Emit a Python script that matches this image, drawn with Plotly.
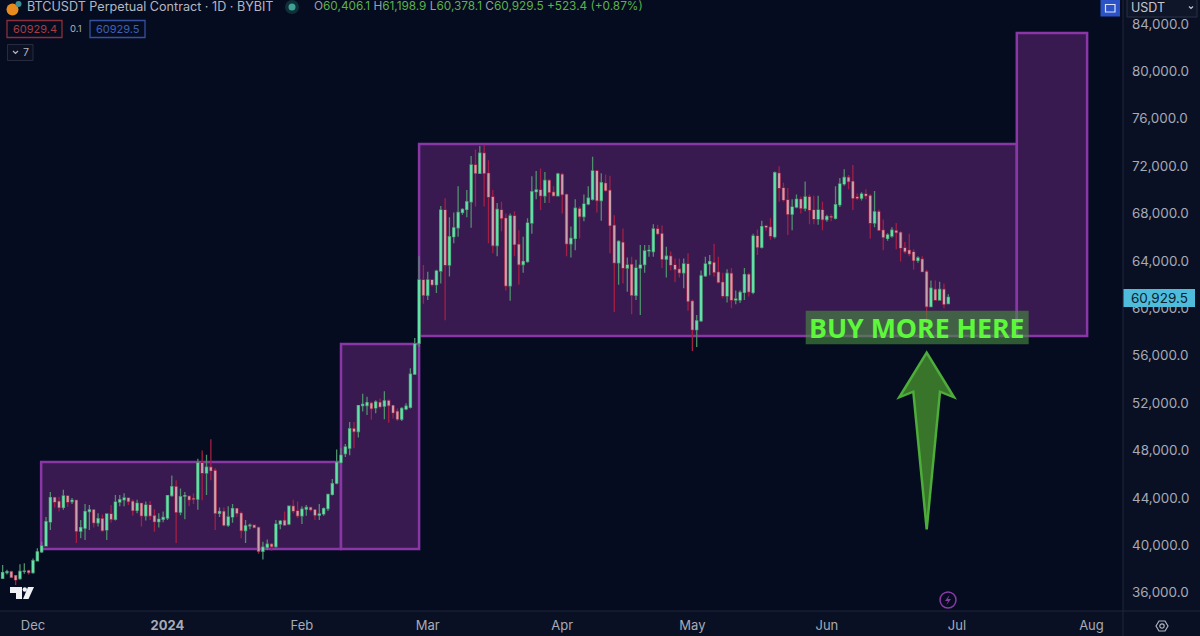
import numpy as np
import pandas as pd
import plotly.graph_objects as go

# Daily BTCUSDT candles, thousands of USDT, one line per month
first_day = "2023-11-24"
opens = [
 37.22,37.70,37.78,37.45,37.20,37.80,37.85,
 37.70,38.70,39.45,39.95,41.98,44.03,43.70,43.20,44.17,43.70,43.80,41.20,41.45,42.85,43.00,41.90,42.25,41.30,42.65,42.20,43.65,43.85,44.00,43.70,42.95,43.55,42.50,43.40,42.50,42.00,42.20,
 42.30,44.20,44.95,42.80,44.15,44.15,43.95,43.90,46.95,46.10,46.60,46.30,42.70,42.85,41.70,42.40,43.10,42.70,41.25,41.65,41.70,41.50,39.50,39.85,40.10,39.90,41.80,42.10,41.80,43.30,42.90,
 42.50,43.05,43.20,43.00,42.55,42.65,43.10,44.30,45.25,47.00,47.75,48.20,49.85,49.60,51.80,51.80,52.00,51.60,52.05,51.75,52.20,51.80,51.30,50.65,51.50,51.65,54.45,57.05,62.40,
 61.10,62.40,62.00,63.15,68.30,63.65,66.05,66.80,68.10,68.35,69.00,72.10,71.40,73.10,71.40,69.40,65.30,68.30,67.60,61.90,67.80,65.40,63.70,63.95,67.20,69.85,70.00,69.50,70.80,69.80,69.50,
 71.30,69.60,65.45,65.90,68.40,67.75,68.80,69.20,71.60,69.10,70.55,69.95,67.00,63.85,65.55,63.40,63.70,61.10,63.40,63.70,64.85,64.80,66.70,66.30,64.15,64.40,63.65,63.30,63.00,63.75,
 60.60,58.20,58.95,62.75,63.75,63.85,63.05,62.20,61.05,62.95,60.70,60.70,61.35,62.85,61.35,66.10,65.15,66.95,66.85,66.05,71.40,70.15,69.15,67.95,68.55,69.20,68.45,69.40,68.30,67.55,68.30,
 67.50,67.75,67.60,68.75,70.50,71.05,70.70,69.40,69.30,69.65,69.50,67.20,68.15,66.60,65.90,66.10,66.55,66.40,65.10,64.90,64.75,64.05,64.15,63.10,60.15,61.60,60.70,61.60,60.4061,
]
highs = [
 38.35,37.95,37.85,37.50,38.40,38.50,37.95,
 38.90,39.75,40.30,42.40,44.50,44.10,44.10,44.70,44.25,44.00,43.85,42.15,43.50,43.40,43.05,42.70,42.60,42.70,43.40,44.25,44.25,44.40,44.05,43.90,43.85,43.60,43.70,43.75,43.05,42.70,42.85,
 44.25,45.90,45.50,44.80,44.50,44.20,44.40,47.30,48.00,47.65,48.95,46.50,43.20,43.20,43.30,43.50,43.15,42.85,42.15,41.85,41.75,41.60,40.30,40.50,40.20,42.15,42.15,42.85,43.35,43.85,43.70,
 43.30,43.40,43.25,43.05,43.50,43.20,44.35,45.60,48.10,48.20,48.55,50.40,50.40,51.85,52.80,52.55,52.15,52.25,52.40,53.00,52.30,51.85,51.55,51.65,52.00,54.95,57.50,64.40,63.65,
 63.10,62.45,63.25,68.65,69.30,67.70,68.10,70.30,68.45,70.00,72.85,73.40,73.70,73.80,72.50,70.00,68.90,69.00,68.00,68.00,68.20,66.60,66.05,67.60,71.15,71.60,71.80,71.50,70.90,70.30,71.45,
 71.45,69.70,66.90,69.20,68.60,69.60,70.30,72.80,71.70,71.40,71.30,71.20,67.85,65.75,66.75,64.30,64.35,64.10,65.35,65.35,65.35,67.10,67.05,67.00,65.20,64.80,64.20,64.20,64.20,64.65,
 60.75,59.45,63.20,64.35,64.50,65.45,64.35,63.00,63.30,63.40,61.50,61.50,63.40,63.00,66.30,66.65,67.40,67.05,67.60,71.55,72.00,70.60,70.15,69.20,69.60,69.45,70.70,69.60,69.50,69.50,69.00,
 67.90,67.95,70.30,71.00,71.75,71.25,72.10,69.70,69.80,70.05,69.65,69.90,68.35,67.50,66.35,66.85,67.20,66.50,65.60,66.30,65.00,64.40,64.40,63.25,62.35,62.35,62.25,62.10,61.1989,
]
lows = [
 37.17,37.55,37.22,36.66,37.10,37.60,37.55,
 37.60,38.65,39.35,39.90,41.30,43.20,42.85,43.00,43.25,43.50,40.20,40.60,40.45,41.30,41.50,41.60,41.15,40.45,41.90,42.10,43.30,43.30,43.40,42.50,42.70,41.60,42.10,42.15,41.15,41.50,41.95,
 42.15,44.10,40.20,42.55,42.20,43.30,43.50,43.00,43.80,44.25,45.50,41.30,42.40,41.60,41.55,41.90,42.40,40.60,40.20,41.35,41.45,39.30,38.80,39.60,39.55,39.80,41.35,41.65,41.70,42.70,42.30,
 41.80,42.50,42.85,42.15,42.15,42.50,42.90,44.20,45.15,46.90,47.45,47.60,48.20,49.10,51.30,51.00,50.60,51.15,51.55,50.65,50.35,50.70,50.50,50.50,51.40,51.55,54.40,56.75,60.40,
 60.70,61.85,61.30,62.10,59.00,62.70,65.50,66.05,67.90,67.70,66.80,68.60,71.35,68.60,65.50,64.65,64.40,66.50,61.50,60.65,64.40,62.00,63.00,63.85,66.30,69.20,68.30,68.90,68.90,69.45,69.45,
 68.00,64.40,64.30,64.90,65.90,67.35,68.70,69.10,68.10,67.40,69.85,64.65,59.70,62.00,62.10,61.40,59.50,60.70,59.45,63.00,64.35,64.35,66.20,63.40,62.60,63.20,62.20,62.60,61.70,59.80,
 56.40,56.75,58.85,62.65,62.80,62.70,62.10,60.85,60.50,60.00,60.35,60.45,60.70,61.00,61.20,64.50,65.05,66.55,65.80,65.90,69.00,69.00,66.20,66.60,68.45,68.00,68.20,67.10,67.10,67.05,66.60,
 67.30,67.35,67.50,68.55,70.35,70.05,68.30,69.15,69.10,69.20,65.90,66.85,66.55,64.90,65.70,65.95,65.00,63.95,64.60,64.40,63.25,63.85,63.05,58.50,60.10,60.65,60.65,60.00,60.3781,
]
closes = [
 37.70,37.78,37.30,37.08,37.80,37.82,37.70,
 38.70,39.45,39.95,42.00,44.03,43.65,43.20,44.17,43.65,43.80,41.20,41.50,42.85,43.00,41.90,42.25,41.25,42.65,42.20,43.65,43.85,44.00,43.70,42.95,43.55,42.50,43.40,42.50,42.00,42.20,42.35,
 44.20,44.95,42.80,44.10,44.20,43.85,43.90,46.95,46.10,46.60,46.30,42.70,42.85,41.70,42.40,43.10,42.70,41.25,41.65,41.70,41.50,39.50,39.85,40.10,39.90,41.80,42.05,41.70,43.30,42.90,42.50,
 43.05,43.20,43.00,42.55,42.65,43.10,44.30,45.20,47.00,47.60,48.30,49.85,49.60,51.80,51.90,52.05,51.55,52.10,51.70,52.20,51.80,51.20,50.65,51.55,51.75,54.45,57.00,62.40,61.10,
 62.40,62.00,63.15,68.30,63.65,66.05,66.80,68.10,68.35,69.00,72.10,71.40,73.10,71.40,69.40,65.30,68.35,67.60,61.90,67.80,65.40,63.70,63.95,67.20,69.85,70.00,69.50,70.80,69.80,69.50,71.35,
 69.60,65.45,65.90,68.45,67.75,68.80,69.30,71.60,69.10,70.60,69.95,67.00,63.85,65.65,63.40,63.65,61.10,63.40,63.65,64.85,64.90,66.70,66.30,64.15,64.40,63.65,63.30,63.00,63.75,60.60,
 58.20,58.95,62.75,63.75,63.95,63.05,62.20,61.05,62.95,60.70,60.80,61.35,62.85,61.40,66.10,65.15,66.90,66.85,66.10,71.45,70.15,69.15,67.95,68.55,69.20,68.45,69.40,68.30,67.55,68.30,67.50,
 67.75,67.70,68.75,70.50,71.05,70.70,69.30,69.30,69.65,69.50,67.20,68.15,66.60,66.00,66.20,66.60,66.40,65.10,64.80,64.60,64.05,64.25,63.10,60.15,61.70,60.70,61.60,60.35,60.9295,
]

# Drawn zones
zone_starts = ["2023-12-02 21:00", "2024-02-10 00:00", "2024-02-28 00:00", "2024-07-14 19:00"]
zone_ends = ["2024-02-10 00:00", "2024-02-28 00:00", "2024-07-14 19:00", "2024-07-31 00:00"]
zone_lows = [39700, 39700, 57670, 57670]
zone_highs = [47040, 57000, 73870, 83240]

# Axis labels
month_ticks = ["2023-12-01", "2024-01-01", "2024-02-01", "2024-03-01", "2024-04-01", "2024-05-01", "2024-06-01", "2024-07-01", "2024-08-01"]
month_labels = ["Dec", "<b>2024</b>", "Feb", "Mar", "Apr", "May", "Jun", "Jul", "Aug"]
price_ticks = [36000, 40000, 44000, 48000, 52000, 56000, 60000, 64000, 68000, 72000, 76000, 80000, 84000]

dates = pd.date_range(first_day, periods=len(closes), freq="D")
o, h, l, c = [np.array(a) * 1000 for a in (opens, highs, lows, closes)]

W, H = 1200, 636
PW, PH = 1123, 611
BG, AXBG = "#050c20", "#0a1024"
TXT = "#a7abb6"
FONT = "Inter"

def px(x):
    return x / PW

def py(y):
    return 1 - y / PH

def poly(pts):
    return "M" + " L".join(f"{px(x):.5f},{py(y):.5f}" for x, y in pts) + " Z"

fig = go.Figure()
# wick layer (dark thin lines) then bright bodies on top
fig.add_trace(go.Candlestick(
    x=dates, open=o, high=h, low=l, close=c, whiskerwidth=0,
    increasing=dict(line=dict(color="#4f8f6c", width=1.3), fillcolor="#4f8f6c"),
    decreasing=dict(line=dict(color="#a31f45", width=1.3), fillcolor="#a31f45"),
    showlegend=False, hoverinfo="skip"))
fig.add_trace(go.Candlestick(
    x=dates, open=o, high=h, low=l, close=c, whiskerwidth=0,
    increasing=dict(line=dict(color="rgba(0,0,0,0)", width=0), fillcolor="#5fe3aa"),
    decreasing=dict(line=dict(color="rgba(0,0,0,0)", width=0), fillcolor="#c4a2ae"),
    showlegend=False, hoverinfo="skip"))

shapes = []
for x0, x1, y0, y1 in zip(zone_starts, zone_ends, zone_lows, zone_highs):
    shapes.append(dict(type="rect", xref="x", yref="y", x0=x0, x1=x1, y0=y0, y1=y1, layer="below",
                       fillcolor="#381a50", line=dict(color="#8a36a6", width=2.5)))

def rect(x0, y0, x1, y1, fill=None, line=None, lw=1):
    shapes.append(dict(type="rect", xref="paper", yref="paper", x0=px(x0), x1=px(x1), y0=py(y1), y1=py(y0),
                       fillcolor=fill or "rgba(0,0,0,0)", line=dict(color=line or "rgba(0,0,0,0)", width=lw if line else 0)))

def circle(cx, cy, r, fill=None, line=None, lw=1):
    shapes.append(dict(type="circle", xref="paper", yref="paper", x0=px(cx - r), x1=px(cx + r), y0=py(cy + r), y1=py(cy - r),
                       fillcolor=fill or "rgba(0,0,0,0)", line=dict(color=line or "rgba(0,0,0,0)", width=lw if line else 0)))

def path(pts, fill=None, line=None, lw=1):
    shapes.append(dict(type="path", xref="paper", yref="paper", path=poly(pts),
                       fillcolor=fill or "rgba(0,0,0,0)", line=dict(color=line or "rgba(0,0,0,0)", width=lw if line else 0)))

# separators
shapes.append(dict(type="line", xref="paper", yref="paper", x0=1, x1=1, y0=-25 / PH, y1=1, line=dict(color="#20263a", width=1)))
shapes.append(dict(type="line", xref="paper", yref="paper", x0=0, x1=W / PW, y0=0, y1=0, line=dict(color="#20263a", width=1)))

# BUY MORE HERE label and arrow
rect(805.7, 310.7, 1028.7, 344.3, fill="rgba(72,140,64,0.62)")
path([(926.7, 352.7), (954, 397.3), (940, 391.7), (926.7, 529.3), (913.3, 391.7), (899.3, 397.3)],
     fill="#38752a", line="#4dad3a", lw=2.5)

# last price tag
rect(1123.5, 289, 1195, 307, fill="#4fbcdc")

# header widgets
circle(12.5, 9.5, 6, fill="#e98a1e")
circle(18.5, 4, 3, fill="#3f8f96")
circle(292, 7, 7, fill="#0f3038")
circle(292, 7, 3.5, fill="#3fa295")
rect(7, 20.5, 62, 37.5, line="#8c2f38", lw=1.3)
rect(90, 20.5, 145, 37.5, line="#34509e", lw=1.3)
rect(7.5, 44.5, 33, 60.5, fill="#0b1122", line="#262c3e", lw=1)
path([(13, 51), (15.5, 53.5), (18, 51), (15.5, 53.5)], line="#b5b8c2", lw=1.2)
rect(1100.5, 0, 1120, 16.5, fill="#2b53c6")
rect(1105.5, 4.5, 1115, 12, line="#d8e2ff", lw=1.2)
rect(1127, -2, 1197, 17, fill="#10162a", line="#2a3044", lw=1)
path([(1189, 6.5), (1191, 8.5), (1193, 6.5), (1191, 8.5)], line="#c0c3cc", lw=1.2)

# TradingView mark
path([(10, 587), (22, 587), (22, 599), (16, 599), (16, 593), (10, 593)], fill="#f0f1f4")
path([(28, 587), (34, 587), (28.5, 599), (23, 599)], fill="#f0f1f4")
circle(24.8, 589.5, 2.2, fill="#f0f1f4")

# lightning badge
circle(948, 600, 8, line="#8a3aa6", lw=1.5)
path([(949.5, 595), (945, 601), (948, 601), (946.5, 605), (951, 599), (948, 599)], fill="#8a3aa6")

# settings icon
path([(1156, 626), (1159, 621), (1165, 621), (1168, 626), (1165, 631), (1159, 631)], line="#b0b3bd", lw=1.2)
circle(1162, 626, 2.2, line="#b0b3bd", lw=1.2)

fig.update_layout(shapes=shapes)

def note(x, y, text, size=12, color=TXT, anchor="left", font=FONT):
    fig.add_annotation(xref="paper", yref="paper", x=px(x), y=py(y), text=text, showarrow=False,
                       xanchor=anchor, yanchor="middle", font=dict(size=size, color=color, family=font))

G = "#5fb04a"
D = "#9a9eaa"
note(24.5, 6.5, "BTCUSDT Perpetual Contract · 1D · BYBIT", 12.6, "#b4b7c1")
note(311.5, 6.5,
     f"<span style='color:{D}'>O</span>60,406.1 <span style='color:{D}'>H</span>61,198.9 "
     f"<span style='color:{D}'>L</span>60,378.1 <span style='color:{D}'>C</span>60,929.5 +523.4 (+0.87%)",
     11.8, G)
note(34.5, 29, "60929.4", 11, "#a63c44", "center")
note(75.5, 29, "0.1", 9.5, "#aeb1bb", "center")
note(117.5, 29, "60929.5", 11, "#3f60b4", "center")
note(26, 52.5, "7", 10.5, "#b5b8c2", "center")
note(1128.5, 8, "USDT", 12.5, "#c4c7d0")
note(1159.5, 298, "60,929.5", 13.5, "#07222e", "center")
note(917.2, 327.5, "<b>BUY MORE HERE</b>", 26.7, "#5df83c", "center", "Open Sans")

fig.update_layout(
    width=W, height=H, margin=dict(l=0, r=W - PW, t=0, b=H - PH),
    paper_bgcolor=AXBG, plot_bgcolor=BG, showlegend=False, dragmode=False,
    font=dict(family=FONT, color=TXT, size=13),
    xaxis=dict(type="date", range=["2023-11-23 09:26", "2024-08-08 06:29"], rangeslider=dict(visible=False),
               showgrid=False, zeroline=False, showline=False, ticks="",
               tickmode="array", tickvals=month_ticks, ticktext=month_labels, tickangle=0,
               ticklabelstandoff=5, tickfont=dict(size=13, color=TXT, family=FONT)),
    yaxis=dict(side="right", range=[34460, 86025], showgrid=False, zeroline=False, showline=False, ticks="",
               tickmode="array", tickvals=price_ticks, tickformat=",.1f",
               ticklabelstandoff=8, tickfont=dict(size=13.4, color=TXT, family=FONT)),
)

fig.write_html("out.html", config=dict(displayModeBar=False), post_script="document.body.style.margin='0';")
